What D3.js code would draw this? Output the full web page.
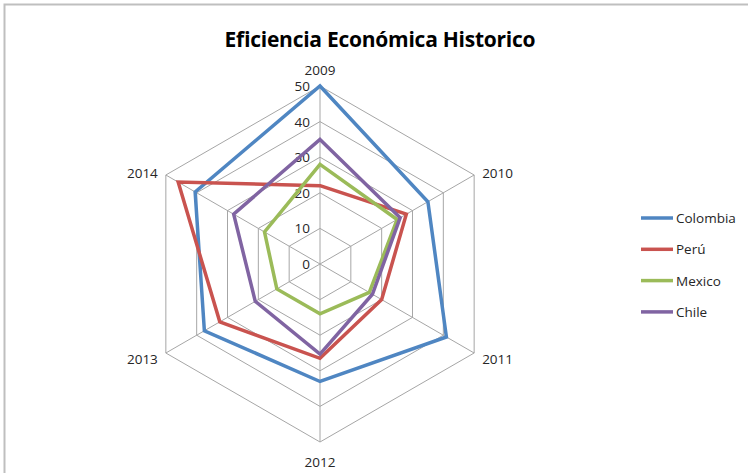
<!DOCTYPE html>
<html>
<head>
<meta charset="utf-8">
<script src="https://cdn.jsdelivr.net/npm/d3@7"></script>
<style>
  body { margin: 0; background: #fff; }
  svg { font-family: "Open Sans", "Liberation Sans", sans-serif; }
</style>
</head>
<body>
<div id="chart"></div>
<script>
// Data
var years = ["2009", "2010", "2011", "2012", "2013", "2014"];
var seriesNames = ["Colombia", "Perú", "Mexico", "Chile"];
var colombia = [50, 35, 41, 33, 37.5, 40.5];
var peru = [22, 28, 20, 26.5, 32.5, 46];
var mexico = [28, 25, 16, 14, 14, 18];
var chile = [35, 26, 17, 25.3, 21, 28];
var ticks = [0, 10, 20, 30, 40, 50];

var w = 748, h = 473;
var cx = 320, cy = 264, R = 178;

var series = [colombia, peru, mexico, chile].map(function(v, i) {
    return { name: seriesNames[i], values: v };
});

var color = d3.scaleOrdinal()
    .domain(seriesNames)
    .range(["#4f86c2", "#c9534f", "#9bbb59", "#8064a2"]);

var r = d3.scaleLinear().domain([0, 50]).range([0, R]);

var angle = d3.scalePoint()
    .domain(years)
    .range([0, 2 * Math.PI * (years.length - 1) / years.length]);

function pt(year, v) {
    var a = angle(year);
    return [cx + r(v) * Math.sin(a), cy - r(v) * Math.cos(a)];
}

var svg = d3.select("#chart").append("svg")
    .attr("width", w)
    .attr("height", h);

// Frame
svg.append("rect")
    .attr("x", 4.5).attr("y", 4.5)
    .attr("width", w + 10).attr("height", h + 10)
    .attr("fill", "none")
    .attr("stroke", "#bfbfbf")
    .attr("stroke-width", 2);

// Title
svg.append("text")
    .attr("x", 380).attr("y", 47)
    .attr("text-anchor", "middle")
    .style("font-size", "21px")
    .style("font-weight", "bold")
    .attr("textLength", 311)
    .text("Eficiencia Económica Historico");

// Grid hexagons
var grid = svg.append("g");
ticks.slice(1).forEach(function(t) {
    grid.append("polygon")
        .attr("points", years.map(function(y) { return pt(y, t).join(","); }).join(" "))
        .attr("fill", "none")
        .attr("stroke", "#a6a6a6")
        .attr("stroke-width", 1);
});
years.forEach(function(y) {
    var p = pt(y, 50);
    grid.append("line")
        .attr("x1", cx).attr("y1", cy)
        .attr("x2", p[0]).attr("y2", p[1])
        .attr("stroke", "#a6a6a6")
        .attr("stroke-width", 1);
});

// Tick labels
svg.append("g").selectAll("text")
    .data(ticks)
    .enter().append("text")
    .attr("x", cx - 10)
    .attr("y", function(d) { return cy - r(d) + 5; })
    .attr("text-anchor", "end")
    .style("font-size", "13.5px")
    .style("fill", "#262626")
    .text(function(d) { return d; });

// Category labels
svg.append("g").selectAll("text")
    .data(years)
    .enter().append("text")
    .attr("x", function(d) {
        var p = pt(d, 50);
        var s = Math.sin(angle(d));
        return p[0] + (s > 0.1 ? 8 : s < -0.1 ? -8 : 0);
    })
    .attr("y", function(d) {
        var p = pt(d, 50);
        var c = Math.cos(angle(d));
        if (Math.abs(c) > 0.99) return p[1] + (c > 0 ? -11 : 25);
        return p[1] + (c > 0 ? 3 : 11);
    })
    .attr("text-anchor", function(d) {
        var s = Math.sin(angle(d));
        return s > 0.1 ? "start" : s < -0.1 ? "end" : "middle";
    })
    .style("font-size", "13.5px")
    .style("fill", "#262626")
    .text(function(d) { return d; });

// Series lines
var line = d3.line()
    .x(function(d, i) { return pt(years[i], d)[0]; })
    .y(function(d, i) { return pt(years[i], d)[1]; })
    .curve(d3.curveLinearClosed);

svg.append("g").selectAll("path")
    .data(series)
    .enter().append("path")
    .attr("d", function(d) { return line(d.values); })
    .attr("fill", "none")
    .attr("stroke", function(d) { return color(d.name); })
    .attr("stroke-width", 3.5)
    .attr("stroke-linejoin", "miter");

// Legend
var legend = svg.append("g").selectAll("g")
    .data(seriesNames)
    .enter().append("g")
    .attr("transform", function(d, i) { return "translate(641," + (218 + i * 31.3) + ")"; });

legend.append("line")
    .attr("x1", 0).attr("x2", 32)
    .attr("stroke", color)
    .attr("stroke-width", 3.5);

legend.append("text")
    .attr("x", 35).attr("y", 5)
    .style("font-size", "13.5px")
    .style("fill", "#262626")
    .text(function(d) { return d; });
</script>
</body>
</html>
